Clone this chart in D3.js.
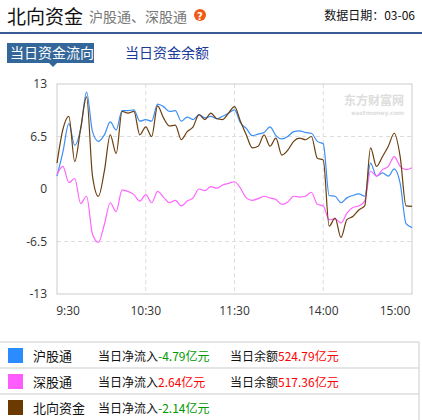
<!DOCTYPE html>
<html><head><meta charset="utf-8">
<script src="https://cdn.jsdelivr.net/npm/d3@7"></script>
<style>body{margin:0;background:#fff;font-family:"Noto Sans CJK SC",sans-serif}</style>
</head><body><svg id="c" width="422" height="420"></svg>
<script>
const minutes = d3.range(0, 241, 4);
const shVals = [1.6,4.6,8.1,5.4,7.4,12.0,7.1,5.9,6.7,8.3,7.3,9.7,9.7,9.8,8.4,8.6,8.4,10.5,10.2,9.6,9.7,8.4,8.9,8.6,9.2,8.8,9.0,8.7,9.0,9.4,9.8,8.2,7.5,6.6,6.8,7.0,7.7,6.6,6.2,6.5,7.1,7.2,7.0,6.9,5.9,5.6,-0.8,-0.9,-1.7,-1.1,-0.8,-0.6,-0.9,3.2,1.6,2.0,1.6,2.5,0.7,-4.3,-4.79];
const szVals = [1.8,2.8,0.8,1.3,-1.8,-0.9,-5.6,-6.6,-4.4,-1.7,-2.8,-0.1,-0.3,-0.7,-1.5,-0.7,-1.7,-0.3,-1.0,-1.7,-1.4,-2.1,-1.5,-1.1,0,-0.2,0.3,0.1,0.5,0.7,0.9,0.1,-1.1,-1.4,-1.2,-0.9,-1.1,-1.3,-1.9,-1.6,-0.9,-1.0,-0.9,-0.4,-1.9,-2.1,-3.8,-3.7,-4.2,-3.0,-2.3,-2.1,-1.5,2.2,1.6,2.4,2.8,4.0,2.8,2.4,2.64];
const nbVals = [3.2,7.4,9.0,3.4,7.5,11.4,1.6,-0.9,2.2,6.7,4.4,9.6,9.4,9.6,6.7,7.7,6.5,10.3,8.8,7.8,7.9,6.1,7.1,7.7,9.2,8.6,9.4,8.7,8.6,9.4,10.2,8.4,6.7,5.1,5.3,6.7,5.3,6.3,4.2,4.8,5.9,6.3,6.1,6.5,3.8,3.6,-4.6,-3.6,-6.0,-3.8,-3.4,-2.6,-2.1,5.1,2.8,4.0,5.3,6.9,4.0,-2.1,-2.14];
const yTicks = [13,6.5,0,-6.5,-13];
const xTickMinutes = [0,60,120,180,240];
const xTickLabels = ["9:30","10:30","11:30","14:00","15:00"];
const seriesNames = ["沪股通","深股通","北向资金"];
const flowText = ["-4.79亿元","2.64亿元","-2.14亿元"];
const balanceText = ["524.79亿元","517.36亿元",""];

const svg = d3.select("#c");
const F = '"Noto Sans CJK SC",sans-serif';
svg.append("text").attr("x",7).attr("y",24).attr("font-size",19).attr("font-family",F).attr("fill","#111").text("北向资金");
svg.append("text").attr("x",89).attr("y",22).attr("font-size",14).attr("font-family",F).attr("fill","#777").text("沪股通、深股通");
svg.append("circle").attr("cx",200).attr("cy",15).attr("r",6).attr("fill","#f05a14");
svg.append("text").attr("x",200).attr("y",19.5).attr("text-anchor","middle").attr("font-size",10).attr("font-weight","bold").attr("fill","#fff").attr("font-family","DejaVu Sans").text("?");
svg.append("text").attr("x",415).attr("y",20).attr("text-anchor","end").attr("font-size",12).attr("font-family",F).attr("fill","#111").text("数据日期：03-06");
svg.append("rect").attr("x",0).attr("y",32).attr("width",422).attr("height",2).attr("fill","#3a5c96");
svg.append("rect").attr("x",7).attr("y",43).attr("width",87).attr("height",20).attr("fill","#336699");
svg.append("path").attr("d","M49,63 L57,63 L53,67 Z").attr("fill","#336699");
svg.append("text").attr("x",10).attr("y",58).attr("font-size",14).attr("font-family",F).attr("fill","#fff").text("当日资金流向");
svg.append("text").attr("x",125).attr("y",58).attr("font-size",14).attr("font-family",F).attr("fill","#1a3a9a").text("当日资金余额");

const x = d3.scaleLinear().domain([0,240]).range([57,412]);
const y = d3.scaleLinear().domain([-13,13]).range([294,84]);
const g = svg.append("g");
g.selectAll(".hg").data([6.5,-6.5]).join("line").attr("x1",57).attr("x2",412).attr("y1",d=>y(d)).attr("y2",d=>y(d)).attr("stroke","#ddd").attr("stroke-dasharray","4,3");
g.selectAll(".vg").data([60,120,180]).join("line").attr("y1",84).attr("y2",294).attr("x1",d=>x(d)).attr("x2",d=>x(d)).attr("stroke","#ddd").attr("stroke-dasharray","4,3");
g.append("text").attr("x",404).attr("y",105).attr("text-anchor","end").attr("font-size",12).attr("font-weight","bold").attr("font-family",F).attr("fill","#ddd").text("东方财富网");
g.append("text").attr("x",404).attr("y",115).attr("text-anchor","end").attr("font-size",6).attr("font-weight","bold").attr("font-family","DejaVu Sans").attr("fill","#ddd").text("eastmoney.com");
g.append("rect").attr("x",57).attr("y",84).attr("width",355).attr("height",210).attr("fill","none").attr("stroke","#ccc");
g.selectAll(".yl").data(yTicks).join("text").attr("x",47).attr("y",d=>y(d)+4).attr("text-anchor","end").attr("font-size",12).attr("font-family","Open Sans").attr("fill","#333").text(d=>d);
g.selectAll(".xl").data(xTickMinutes).join("text").attr("x",(d,i)=>x(d)+(i==0?11:i==4?-17:0)).attr("y",315).attr("text-anchor","middle").attr("font-size",12).attr("font-family","Open Sans").attr("fill","#333").text((d,i)=>xTickLabels[i]);
const line = d3.line().x((d,i)=>x(minutes[i])).y(d=>y(d)).curve(d3.curveMonotoneX);
const cols = ["#3d8ef5","#ff66ff","#6b3f10"];
[shVals,szVals,nbVals].forEach((v,i)=>{
  g.append("path").attr("d",line(v)).attr("fill","none").attr("stroke",cols[i]).attr("stroke-width",1.2);
});

const sq = ["#2b8cff","#ff5cff","#6b3a00"];
[342,368,394].forEach((ty,i)=>{
  svg.append("line").attr("x1",0).attr("x2",419).attr("y1",ty).attr("y2",ty).attr("stroke","#ddd").attr("stroke-width",1.5);
  svg.append("rect").attr("x",8).attr("y",ty+6).attr("width",15).attr("height",15).attr("fill",sq[i]);
  svg.append("text").attr("x",33).attr("y",ty+19).attr("font-size",13).attr("font-family",F).attr("fill","#111").text(seriesNames[i]);
  const t = svg.append("text").attr("x",98).attr("y",ty+19).attr("font-size",12).attr("font-family",F).attr("fill","#111");
  t.append("tspan").text("当日净流入");
  t.append("tspan").attr("fill",flowText[i][0]=="-"?"#090":"#f00").text(flowText[i]);
  if(balanceText[i]){
    const b = svg.append("text").attr("x",230).attr("y",ty+19).attr("font-size",12).attr("font-family",F).attr("fill","#111");
    b.append("tspan").text("当日余额");
    b.append("tspan").attr("fill","#f00").text(balanceText[i]);
  }
});
svg.append("line").attr("x1",419).attr("x2",419).attr("y1",342).attr("y2",420).attr("stroke","#ddd").attr("stroke-width",1.5);
</script></body></html>
